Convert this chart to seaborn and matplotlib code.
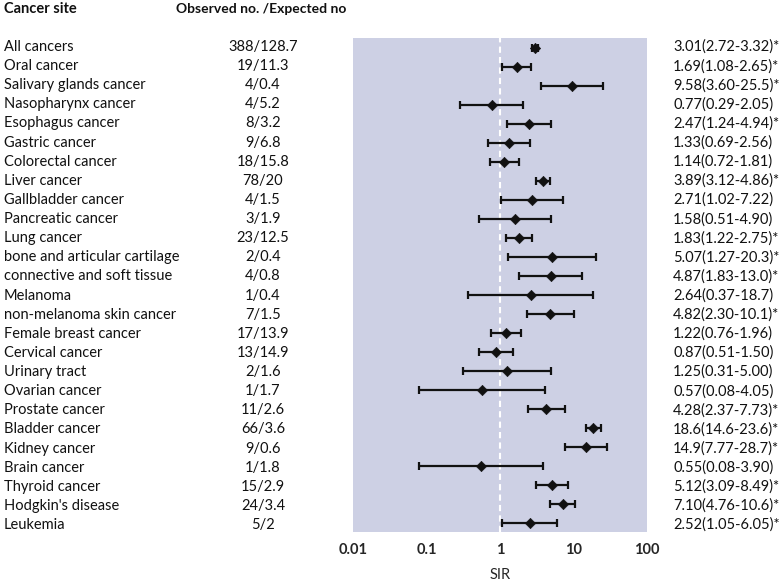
import numpy as np
import pandas as pd
import matplotlib
matplotlib.use("Agg")
import matplotlib.pyplot as plt
import seaborn as sns

sites = ["All cancers", "Oral cancer", "Salivary glands cancer", "Nasopharynx cancer",
         "Esophagus cancer", "Gastric cancer", "Colorectal cancer", "Liver cancer",
         "Gallbladder cancer", "Pancreatic cancer", "Lung cancer",
         "bone and articular cartilage", "connective and soft tissue", "Melanoma",
         "non-melanoma skin cancer", "Female breast cancer", "Cervical cancer",
         "Urinary tract", "Ovarian cancer", "Prostate cancer", "Bladder cancer",
         "Kidney cancer", "Brain cancer", "Thyroid cancer", "Hodgkin's disease", "Leukemia"]
obs_exp = ["388/128.7", "19/11.3", "4/0.4", "4/5.2", "8/3.2", "9/6.8", "18/15.8", "78/20",
           "4/1.5", "3/1.9", "23/12.5", "2/0.4", "4/0.8", "1/0.4", "7/1.5", "17/13.9",
           "13/14.9", "2/1.6", "1/1.7", "11/2.6", "66/3.6", "9/0.6", "1/1.8", "15/2.9",
           "24/3.4", "5/2"]
sir = [3.01, 1.69, 9.58, 0.77, 2.47, 1.33, 1.14, 3.89, 2.71, 1.58, 1.83, 5.07, 4.87, 2.64,
       4.82, 1.22, 0.87, 1.25, 0.57, 4.28, 18.6, 14.9, 0.55, 5.12, 7.10, 2.52]
lower = [2.72, 1.08, 3.60, 0.29, 1.24, 0.69, 0.72, 3.12, 1.02, 0.51, 1.22, 1.27, 1.83, 0.37,
         2.30, 0.76, 0.51, 0.31, 0.08, 2.37, 14.6, 7.77, 0.08, 3.09, 4.76, 1.05]
upper = [3.32, 2.65, 25.5, 2.05, 4.94, 2.56, 1.81, 4.86, 7.22, 4.90, 2.75, 20.3, 13.0, 18.7,
         10.1, 1.96, 1.50, 5.00, 4.05, 7.73, 23.6, 28.7, 3.90, 8.49, 10.6, 6.05]
sir_labels = ["3.01(2.72-3.32)*", "1.69(1.08-2.65)*", "9.58(3.60-25.5)*", "0.77(0.29-2.05)",
              "2.47(1.24-4.94)*", "1.33(0.69-2.56)", "1.14(0.72-1.81)", "3.89(3.12-4.86)*",
              "2.71(1.02-7.22)", "1.58(0.51-4.90)", "1.83(1.22-2.75)*", "5.07(1.27-20.3)*",
              "4.87(1.83-13.0)*", "2.64(0.37-18.7)", "4.82(2.30-10.1)*", "1.22(0.76-1.96)",
              "0.87(0.51-1.50)", "1.25(0.31-5.00)", "0.57(0.08-4.05)", "4.28(2.37-7.73)*",
              "18.6(14.6-23.6)*", "14.9(7.77-28.7)*", "0.55(0.08-3.90)", "5.12(3.09-8.49)*",
              "7.10(4.76-10.6)*", "2.52(1.05-6.05)*"]
xticks = [0.01, 0.1, 1, 10, 100]
xtick_labels = ["0.01", "0.1", "1", "10", "100"]

sns.set_theme(style="white")
plt.rcParams['font.family'] = ['Lato', 'DejaVu Sans']

df = pd.DataFrame({"site": sites, "sir": sir, "lower": lower, "upper": upper,
                   "pos": np.arange(len(sites))})

fig = plt.figure(figsize=(7.8, 5.82), dpi=100)
ax = fig.add_axes([353/780, 50/582, 294/780, 494/582])
ax.set_facecolor("#CDD0E4")
for s in ax.spines.values():
    s.set_visible(False)

ax.axvline(1, color="white", lw=1.5, ls=(0, (3, 2)), zorder=1)
ax.errorbar(df["sir"], df["pos"],
            xerr=[df["sir"] - df["lower"], df["upper"] - df["sir"]],
            fmt="none", ecolor="#111111", elinewidth=1.6, capsize=3, capthick=1.6, zorder=2)
sns.scatterplot(data=df, x="sir", y="pos", marker="D", s=28, color="#111111",
                edgecolor="#111111", ax=ax, zorder=3, legend=False)

ax.set_xscale("log")
ax.set_xlim(0.01, 100)
ax.set_ylim(len(sites) - 0.5, -0.5)
ax.set_yticks([])
ax.set_xticks(xticks)
ax.set_xticklabels(xtick_labels, fontsize=10.5, fontweight="bold")
ax.minorticks_off()
ax.tick_params(axis="x", length=0, pad=8)
ax.set_xlabel("SIR", fontsize=10.5, labelpad=8)
ax.set_ylabel("")

fs = 10.5
for i in range(len(sites)):
    ax.text(4/780, 1 - (47 + 19.12 * i)/582, sites[i], transform=fig.transFigure,
            ha="left", va="center", fontsize=fs, color="#111111")
    ax.text(263/780, 1 - (47 + 19.12 * i)/582, obs_exp[i], transform=fig.transFigure,
            ha="center", va="center", fontsize=fs, color="#111111")
    ax.text(673/780, 1 - (47 + 19.12 * i)/582, sir_labels[i], transform=fig.transFigure,
            ha="left", va="center", fontsize=fs, color="#111111")

fig.text(4/780, 1 - 9/582, "Cancer site", ha="left", va="center", fontsize=fs,
         fontweight="bold", color="#111111")
fig.text(261/780, 1 - 9/582, "Observed no. /Expected no", ha="center", va="center",
         fontsize=fs - 0.5, fontweight="bold", color="#111111")

fig.savefig("out.png", dpi=100, facecolor="white")
